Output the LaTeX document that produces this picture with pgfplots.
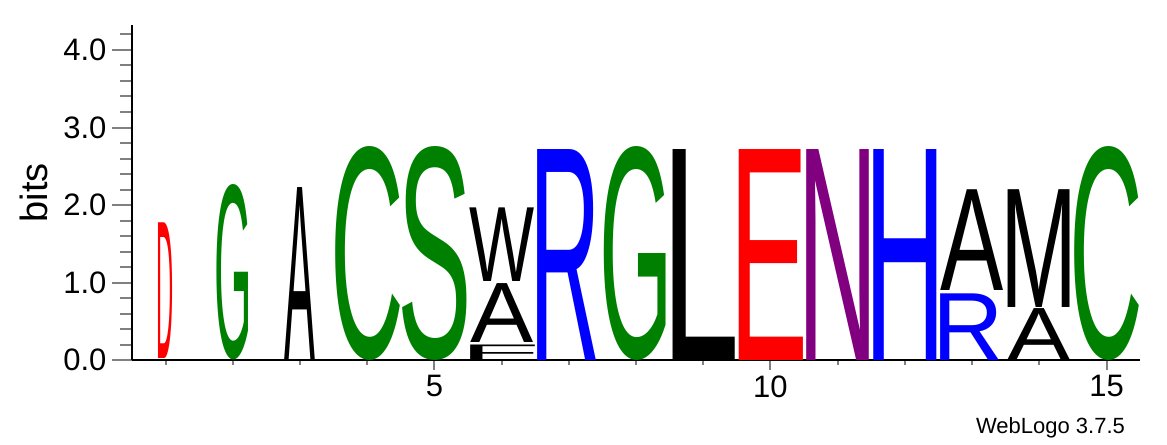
\documentclass[border=0pt]{standalone}
\usepackage{pgfplots}
\pgfplotsset{compat=1.18}
\usepackage{pgfplotstable}
\usepackage{graphicx}
\usepackage{fontspec}
\setmainfont{Liberation Sans}
\newfontfamily\logofont{Liberation Sans}
\definecolor{wgreen}{RGB}{0,128,0}
\definecolor{wblue}{RGB}{0,0,255}
\definecolor{wred}{RGB}{255,0,0}
\definecolor{wpurple}{RGB}{128,0,128}
\definecolor{wblack}{RGB}{0,0,0}
% meta: first character is the letter, the rest is its colour
\def\logochar#1#2\relax{\textcolor{#2}{\logofont #1}}

% x: position, y: bottom of letter (bits), h: height (bits),
% w: ink width (positions), r: advance/ink ratio, s: ink offset fraction
\pgfplotstableread{
x  y     h     w     r      s      lc
1  0.02  1.75  0.21  1.22   -0.017 Dwred
2  0.00  2.23  0.48  1.165  0      Gwgreen
3  0.00  2.23  0.46  1.00   0      Awblack
4  0.00  2.72  0.94  1.166  0      Cwgreen
5  0.00  2.72  0.94  1.18   0      Swgreen
6  0.00  0.20  0.94  1.28   -0.024 Fwblack
6  0.22  0.76  0.94  1.00   0      Awblack
6  1.01  0.95  0.94  1.03   0      Wwblack
7  0.00  2.72  0.94  1.13   -0.05  Rwblue
8  0.00  2.72  0.94  1.165  0      Gwgreen
9  0.00  2.72  0.94  1.24   -0.034 Lwblack
10 0.00  2.72  0.94  1.25   -0.018 Ewred
11 0.00  2.72  0.94  1.28   0      Nwpurple
12 0.00  2.72  0.94  1.29   0      Hwblue
13 0.00  0.86  0.94  1.13   -0.05  Rwblue
13 0.90  1.30  0.94  1.00   0      Awblack
14 0.00  0.67  0.94  1.00   0      Awblack
14 0.68  1.52  0.94  1.22   0      Mwblack
15 0.00  2.72  0.94  1.166  0      Cwgreen
}\logodata

\begin{document}
\begin{tikzpicture}
\begin{axis}[
  x=33.6pt, y=38.75pt,
  xmin=0.5, xmax=15.5, ymin=0, ymax=4.32,
  axis lines*=left,
  axis line style={line width=1.2pt},
  clip=false,
  tick align=outside,
  xtick={5,10,15},
  minor xtick={1,2,3,4,6,7,8,9,11,12,13,14},
  ytick={0,1,2,3,4},
  minor ytick={0.2,0.4,0.6,0.8,1.2,1.4,1.6,1.8,2.2,2.4,2.6,2.8,3.2,3.4,3.6,3.8,4.2},
  xtick style={line width=1pt,/pgfplots/major tick length=5pt,/pgfplots/minor tick length=2.5pt},
  ytick style={line width=1pt,/pgfplots/major tick length=10pt,/pgfplots/minor tick length=6pt},
  /pgf/number format/assume math mode=true,
  yticklabel style={/pgf/number format/.cd, fixed, fixed zerofill, precision=1, /tikz/.cd, xshift=-5pt},
  tick label style={font=\fontsize{15.5}{17}\selectfont},
  ylabel={bits},
  ylabel style={font=\fontsize{19}{21}\selectfont, at={(axis description cs:-0.097,0.5)}, anchor=center},
]
\addplot[only marks, mark=*, mark size=0pt, mark options={draw=none, fill=none},
  point meta=explicit symbolic,
  visualization depends on={\thisrow{w}*\thisrow{r}*33.6 \as \bw},
  visualization depends on={\thisrow{h}*38.75 \as \bh},
  visualization depends on={\thisrow{w}*\thisrow{r}*\thisrow{s}*33.6 \as \bs},
  nodes near coords={\resizebox{\bw pt}{\bh pt}{\expandafter\logochar\pgfplotspointmeta\relax}},
  every node near coord/.style={anchor=south, inner sep=0pt, outer sep=0pt, xshift=\bs pt},
] table[x=x, y=y, meta=lc] {\logodata};
\node[anchor=base east, font=\fontsize{11}{12}\selectfont, inner sep=0pt] at (axis cs:15.28,-0.942) {WebLogo 3.7.5};
\path (axis cs:-1.464,-1.084) rectangle (axis cs:15.90,4.645);
\end{axis}
\end{tikzpicture}
\end{document}
